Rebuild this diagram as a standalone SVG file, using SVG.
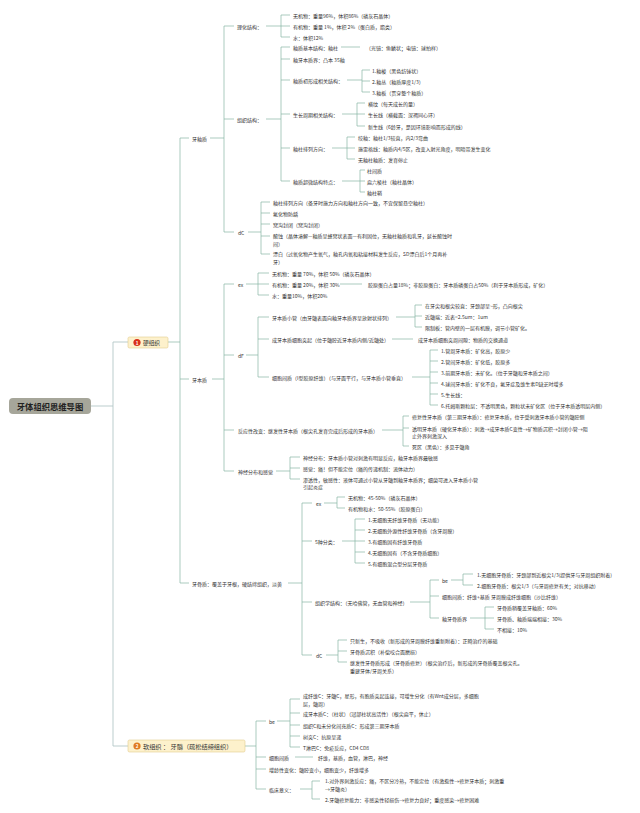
<svg xmlns="http://www.w3.org/2000/svg" width="640" height="813" viewBox="0 0 640 813">
<style>
text{font-family:"Noto Sans CJK SC","Noto Sans",sans-serif;font-size:5px;fill:#333;dominant-baseline:central}
.c{stroke:#86b4a4;stroke-width:0.7;fill:none}
.l1{stroke:#b3c7c7;stroke-width:0.9;fill:none}
.root{font-size:8.3px;font-weight:bold;fill:#222;text-anchor:middle}
.bx{font-size:5.7px;fill:#333}
.num{font-size:4.6px;font-weight:bold;fill:#fff;text-anchor:middle}
</style>
<rect width="640" height="813" fill="#fff"/>
<g id="connectors">
<path class="l1" d="M91,406H113M113,342V746M113,342H128M113,746H128"/>
<path class="c" d="M168,342H180M180,138V583M180,138H189M180,379H189M180,583H189"/>
<path class="c" d="M210,138H224M224,26V232M224,26H234M224,119H234M224,232H234"/>
<path class="c" d="M266,26H290M281,15V37M281,15H290M281,37H290"/>
<path class="c" d="M266,119H281M281,47V181M281,47H290M281,59H290M281,80H290M281,114H290M281,148H290M281,181H290"/>
<path class="c" d="M341,47H360"/>
<path class="c" d="M347,80H362M362,70V92M362,70H370M362,81H370M362,92H370"/>
<path class="c" d="M342,114H357M357,103V126M357,103H365M357,114H365M357,126H365"/>
<path class="c" d="M332,148H347M347,137V159M347,137H355M347,148H355M347,159H355"/>
<path class="c" d="M342,181H360M360,170V192M360,170H365M360,181H365M360,192H365"/>
<path class="c" d="M248,232H261M261,202V254M261,202H270M261,213H270M261,224H270M261,236H270M261,254H270"/>
<path class="c" d="M212,379H224M224,284V471M224,284H234M224,355H234M224,430H234M224,471H234"/>
<path class="c" d="M246,284H258M258,273V295M258,273H269M258,284H269M258,295H269"/>
<path class="c" d="M340,284H362"/>
<path class="c" d="M246,355H258M258,317V377M258,317H269M258,339H269M258,377H269"/>
<path class="c" d="M396,317H415M415,305V327M415,305H422M415,316H422M415,327H422"/>
<path class="c" d="M392,339H413"/>
<path class="c" d="M412,377H430M430,350V405M430,350H438M430,361H438M430,372H438M430,383H438M430,394H438M430,405H438"/>
<path class="c" d="M382,430H403M403,416V446M403,416H409M403,428H409M403,446H409"/>
<path class="c" d="M276,471H290M290,457V479M290,457H300M290,468H300M290,479H300"/>
<path class="c" d="M288,583H302M302,503V655M302,503H312M302,541H312M302,602H312M302,655H312"/>
<path class="c" d="M324,503H337M337,497V508M337,497H345M337,508H345"/>
<path class="c" d="M342,541H355M355,519V563M355,519H365M355,530H365M355,541H365M355,552H365M355,563H365"/>
<path class="c" d="M410,602H430M430,580V618M430,580H439M430,596H439M430,618H439"/>
<path class="c" d="M451,580H463M463,574V585M463,574H473M463,585H473"/>
<path class="c" d="M470,618H485M485,607V629M485,607H494M485,618H494M485,629H494"/>
<path class="c" d="M326,655H338M338,640V662M338,640H347M338,651H347M338,662H347"/>
<path class="c" d="M245,746H256M256,721V789M256,721H266M256,757H266M256,769H266M256,789H266"/>
<path class="c" d="M277,721H290M290,699V747M290,699H300M290,713H300M290,725H300M290,736H300M290,747H300"/>
<path class="c" d="M295,757H313"/>
<path class="c" d="M300,789H312M312,781V799M312,781H320M312,799H320"/>
</g>

<g id="root"><rect x="9" y="398" width="82" height="16" rx="4" fill="#a6a69a"/><text class="root" x="50" y="406">牙体组织思维导图</text></g>
<g id="hard"><rect x="128" y="337" width="40" height="11" rx="1.5" fill="#fdf1cc" stroke="#e3cd8e" stroke-width="0.6"/><circle cx="137" cy="342.5" r="3.6" fill="#d9301b"/><text class="num" x="137" y="342.7">1</text><text class="bx" x="143" y="342.5">硬组织</text></g>
<g id="soft"><rect x="128" y="740" width="117" height="12" rx="1.5" fill="#fdf1cc" stroke="#e3cd8e" stroke-width="0.6"/><circle cx="137" cy="746" r="3.6" fill="#e07b22"/><text class="num" x="137" y="746.2">2</text><text class="bx" x="143" y="746" style="font-size:6.2px">软组织 ： 牙髓（疏松结缔组织）</text></g>

<g id="enamel">
<text x="192" y="138">牙釉质</text>
<g id="e-phys"><text x="237" y="26">理化结构：</text>
<text x="293" y="15">无机物：重量96%，体积86%（磷灰石晶体）</text>
<text x="293" y="26">有机物：重量 1%，体积 2%（蛋白质，脂类）</text>
<text x="293" y="37">水：体积12%</text></g>
<g id="e-tissue"><text x="237" y="119">组织结构：</text>
<text x="293" y="47">釉质基本结构：釉柱</text>
<text x="366" y="47">（光镜：鱼鳞状；电镜：球拍样）</text>
<text x="293" y="59">釉牙本质界：凸本 35釉</text>
<text x="293" y="80">釉质初形成相关结构：</text>
<text x="372" y="70">1.釉梭（黑色纺锤状）</text>
<text x="372" y="81">2.釉丛（釉质厚度1/3）</text>
<text x="372" y="92">3.釉板（贯穿整个釉质）</text>
<text x="293" y="114">生长周期相关结构：</text>
<text x="368" y="103">横纹（每天成长的量）</text>
<text x="368" y="114">生长线（横截面：深褐同心环）</text>
<text x="368" y="126">新生线（6龄牙，是因环境影响而形成的线）</text>
<text x="293" y="148">釉柱排列方向：</text>
<text x="358" y="137">绞釉：釉柱1/3较直，内2/3弯曲</text>
<text x="358" y="148">施雷格线：釉质内4/5区，改变入射光角度，明暗带发生变化</text>
<text x="358" y="159">无釉柱釉质：发育停止</text>
<text x="293" y="181">釉质超微结构特点：</text>
<text x="367" y="170">柱间质</text>
<text x="367" y="181">扁六棱柱（釉柱晶体）</text>
<text x="367" y="192">釉柱鞘</text></g>
<g id="e-clin"><text x="238" y="232">dC</text>
<text x="273" y="202">釉柱排列方向（备牙时施力方向和釉柱方向一致，不宜保留悬空釉柱）</text>
<text x="273" y="213">氟化物防龋</text>
<text x="273" y="224">窝沟封闭（窝沟封闭）</text>
<text x="273" y="235">酸蚀（晶体溶解—釉质呈蜂窝状表面—有利固位，无釉柱釉质和乳牙，延长酸蚀时</text>
<text x="273" y="243">间）</text>
<text x="273" y="253">漂白（过氧化物产生氧气，釉孔内氧和粘接材料发生反应，SD漂白后1个月再补</text>
<text x="273" y="261">牙）</text></g>
</g>

<g id="dentin">
<text x="192" y="379">牙本质</text>
<g id="d-phys"><text x="238" y="284">ex</text>
<text x="272" y="273">无机物：重量 70%，体积 50%（磷灰石晶体）</text>
<text x="272" y="284">有机物：重量 20%，体积 30%</text>
<text x="368" y="284">胶原蛋白占量18%；非胶原蛋白：牙本质磷蛋白占50%（利于牙本质形成，矿化）</text>
<text x="272" y="295">水：重量10%，体积20%</text></g>
<g id="d-tissue"><text x="238" y="355">dF</text>
<text x="272" y="317">牙本质小管（由牙髓表面向釉牙本质界呈放射状排列）</text>
<text x="425" y="305">在牙尖和根尖较直：牙颈部呈~形，凸向根尖</text>
<text x="425" y="316">近髓端：近表=2.5um：1um</text>
<text x="425" y="327">限制板：管内壁的一层有机膜，调节小管矿化。</text>
<text x="272" y="339">成牙本质细胞突起（位于髓腔近牙本质内侧/近髓处）</text>
<text x="418" y="339">成牙本质细胞突周间隙：物质的交换通道</text>
<text x="272" y="377">细胞间质（I型胶原纤维）（与牙面平行，与牙本质小管垂直）</text>
<text x="441" y="350">1.管周牙本质：矿化高，胶原少</text>
<text x="441" y="361">2.管间牙本质：矿化低，胶原多</text>
<text x="441" y="372">3.前期牙本质：未矿化。（位于牙髓和牙本质之间）</text>
<text x="441" y="383">4.球间牙本质：矿化不良，氟牙症及维生素D缺乏时增多</text>
<text x="441" y="394">5.生长线：</text>
<text x="441" y="405">6.托姆斯颗粒层：不透明黑色，颗粒状未矿化区（位于牙本质透明层内侧）</text></g>
<g id="d-react"><text x="238" y="430">反应性改变：继发性牙本质（根尖孔发育完成后形成的牙本质）</text>
<text x="412" y="416">修复性牙本质（第三期牙本质）：修复牙本质，位于受刺激牙本质小管的髓腔侧</text>
<text x="412" y="428">透明牙本质（硬化牙本质）：刺激→成牙本质C变性→矿物质沉积→封闭小管→阻</text>
<text x="412" y="435">止外界刺激深入</text>
<text x="412" y="446">死区（黑色）：多见于髓角</text></g>
<g id="d-nerve"><text x="238" y="471">神经分布和感觉</text>
<text x="303" y="457">神经分布：牙本质小管对刺激有明显反应，釉牙本质界最敏感</text>
<text x="303" y="468">感觉：痛！但不能定位（痛的传递机制：流体动力）</text>
<text x="303" y="479">渗透性，敏感性：液体可通过小管从牙髓到釉牙本质界；细菌可进入牙本质小管</text>
<text x="303" y="486">引起炎症</text></g>
</g>

<g id="cementum">
<text x="192" y="583">牙骨质：覆盖于牙根，硬结缔组织，淡黄</text>
<g id="c-phys"><text x="316" y="503">ex</text>
<text x="348" y="497">无机物：45-50%（磷灰石晶体）</text>
<text x="348" y="508">有机物和水：50-55%（胶原蛋白）</text></g>
<g id="c-type"><text x="315" y="541">5种分类：</text>
<text x="368" y="519">1.无细胞无纤维牙骨质（无功能）</text>
<text x="368" y="530">2.无细胞外源性纤维牙骨质（含牙周膜）</text>
<text x="368" y="541">3.有细胞固有纤维牙骨质</text>
<text x="368" y="552">4.无细胞固有（不含牙骨质细胞）</text>
<text x="368" y="563">5.有细胞混合型分层牙骨质</text></g>
<g id="c-tissue"><text x="315" y="602">组织学结构：（无哈佛管，无血管和神经）</text>
<text x="442" y="580">be</text>
<text x="477" y="574">1.无细胞牙骨质：牙颈部到近根尖1/3(提供牙与牙周组织附着)</text>
<text x="477" y="585">2.细胞牙骨质：根尖1/3（与牙周修复有关；对抗移动）</text>
<text x="442" y="596">细胞间质：纤维+基质 牙周膜成纤维细胞（沙比纤维）</text>
<text x="442" y="618">釉牙骨质界</text>
<text x="497" y="607">牙骨质稍覆盖牙釉质：60%</text>
<text x="497" y="618">牙骨质、釉质端端相接：30%</text>
<text x="497" y="629">不相接：10%</text></g>
<g id="c-clin"><text x="316" y="655">dC</text>
<text x="350" y="640">只新生，不吸收（新形成的牙周膜纤维重新附着）：正畸治疗的基础</text>
<text x="350" y="651">牙骨质沉积（补偿咬合面磨损）</text>
<text x="350" y="662">继发性牙骨质形成（牙骨质修复）（根尖治疗后，新形成的牙骨质覆盖根尖孔。</text>
<text x="350" y="670">重建牙体/牙周关系）</text></g>
</g>

<g id="pulp">
<g id="p-cell"><text x="269" y="721">be</text>
<text x="303" y="695">成纤维C：牙髓C，星形，有胞质突起连接，可增生分化（有Wnt成分层，多细胞</text>
<text x="303" y="703">层，髓周）</text>
<text x="303" y="713">成牙本质C：（柱状）（冠部柱状高活性）（根尖扁平，休止）</text>
<text x="303" y="725">组织C和未分化间充质C：形成第三期牙本质</text>
<text x="303" y="736">树突C：抗原呈递</text>
<text x="303" y="747">T淋巴C：免疫反应，CD4 CD8</text></g>
<g id="p-matrix"><text x="269" y="757">细胞间质</text>
<text x="318" y="757">纤维，基质，血管，淋巴，神经</text></g>
<g id="p-age"><text x="269" y="769">增龄性变化：髓腔变小，细胞变少，纤维增多</text></g>
<g id="p-clin"><text x="269" y="789">临床意义：</text>
<text x="325" y="780">1.对外界刺激反应：痛，不区分冷热，不能定位（有激惹性→修复牙本质；刺激重</text>
<text x="325" y="788">→牙髓炎）</text>
<text x="325" y="799">2.牙髓修复能力：非感染性轻损伤→修复力良好；重度感染→修复困难</text></g>
</g>
</svg>
